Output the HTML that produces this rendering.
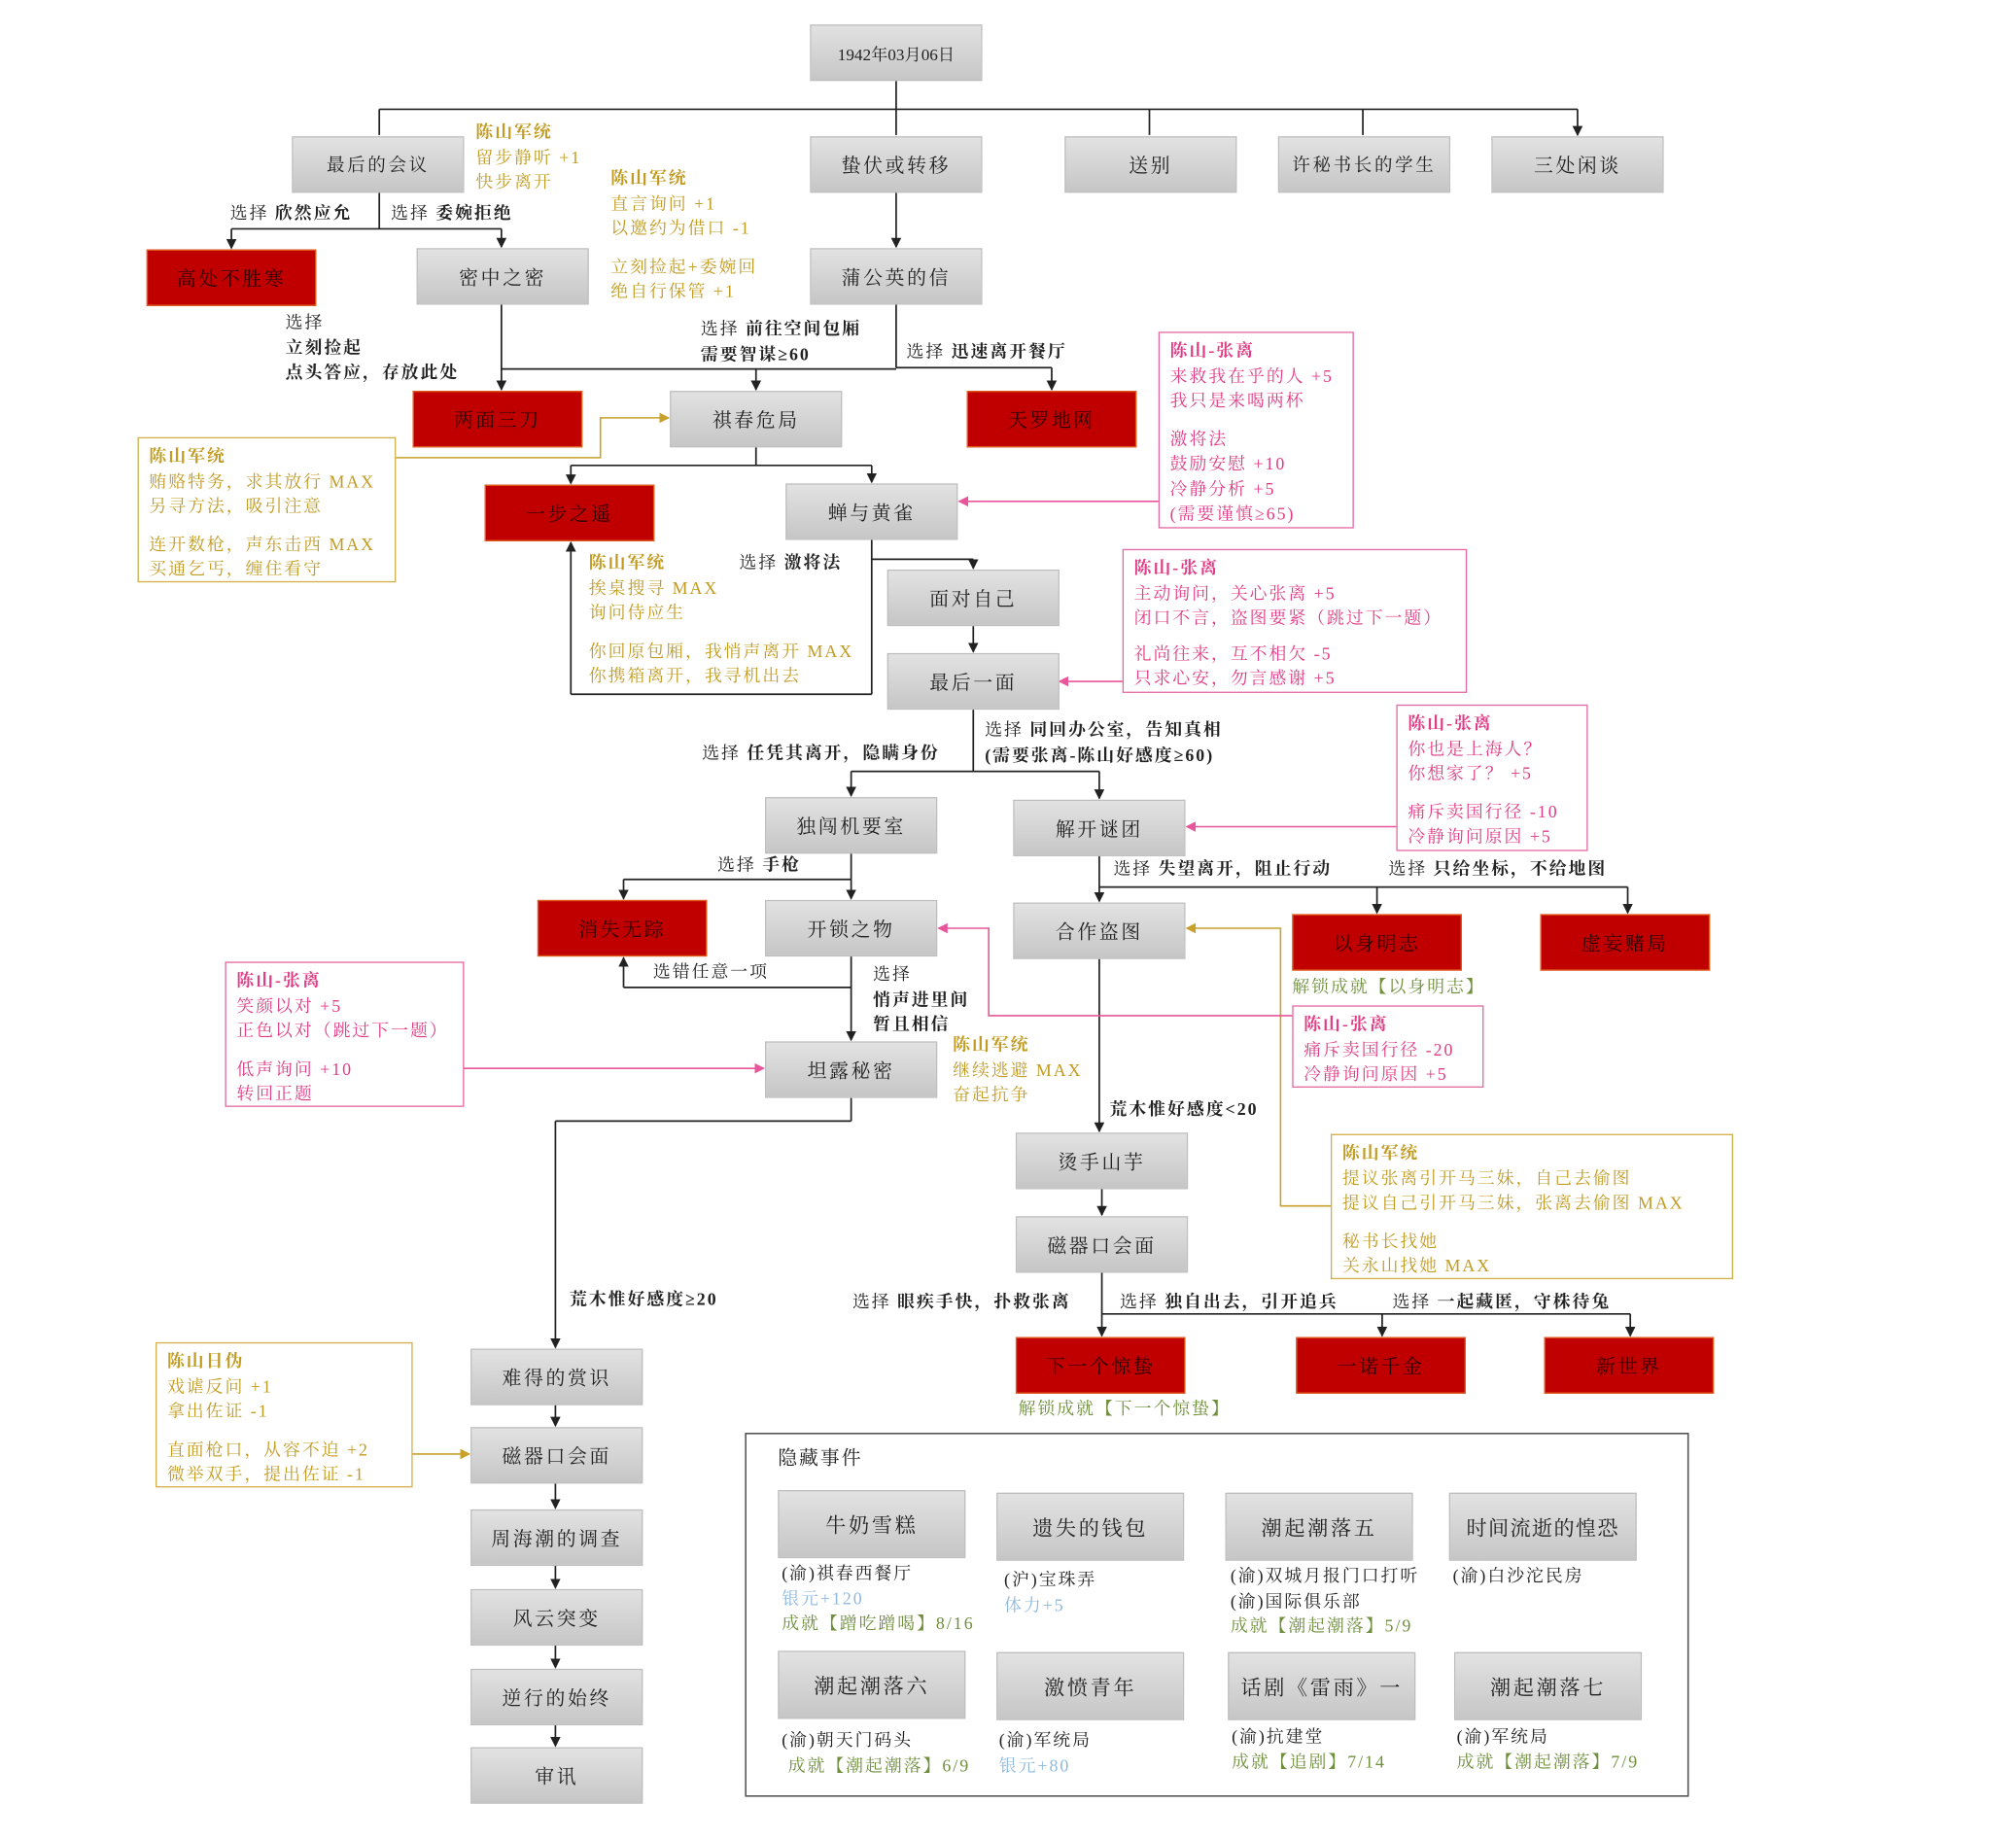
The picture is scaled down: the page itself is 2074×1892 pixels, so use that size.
<!DOCTYPE html>
<html><head><meta charset="utf-8">
<style>
html,body{margin:0;padding:0;background:#fff;}
body{width:2074px;height:1892px;overflow:hidden;position:relative;}
#w{position:absolute;left:0;top:0;width:1568px;height:1430px;transform:scale(1.32270);transform-origin:0 0;font-family:"Liberation Serif","Noto Serif CJK SC",serif;}
.b,.r{position:absolute;display:flex;align-items:center;justify-content:center;font-size:15px;letter-spacing:2px;color:#222;box-sizing:border-box;}
.b{background:linear-gradient(#e2e2e2,#c6c6c6);border:1px solid #bdbdbd;}
.r{background:#c00000;border:1px solid #e05a1a;color:#2a0000;}
.t{position:absolute;font-size:13.5px;line-height:19.5px;letter-spacing:1.5px;white-space:nowrap;color:#222;}
.t b{font-weight:bold;}
.g{color:#c29b22;} .p{color:#e03d86;} .gr{color:#6f8f3c;} .bl{color:#8fb8dc;}
.n{position:absolute;box-sizing:border-box;padding:4px 8px;font-size:13.5px;line-height:19.5px;letter-spacing:1.5px;white-space:nowrap;}
.ny{border:1px solid #d4b04a;color:#c29b22;}
.np{border:1px solid #e36aa3;color:#e03d86;}
.sp{height:10px;}
svg{position:absolute;left:0;top:0;}
</style></head><body><div id="w">
<svg width="1568" height="1430" viewBox="0 0 1568 1430">
<defs>
<marker id="a" markerWidth="8" markerHeight="8" refX="7" refY="4" orient="auto" markerUnits="userSpaceOnUse"><path d="M0,0 L8,4 L0,8z" fill="#222"/></marker>
<marker id="ay" markerWidth="8" markerHeight="8" refX="7" refY="4" orient="auto" markerUnits="userSpaceOnUse"><path d="M0,0 L8,4 L0,8z" fill="#c8a02a"/></marker>
<marker id="ap" markerWidth="8" markerHeight="8" refX="7" refY="4" orient="auto" markerUnits="userSpaceOnUse"><path d="M0,0 L8,4 L0,8z" fill="#e8559a"/></marker>
</defs>
<g stroke="#222" stroke-width="1.3" fill="none">
<path d="M697 63V85M295 85H1227"/>
<path d="M295 85V105M697 85V105M894 85V105M1060 85V105M1227 85V105" marker-end="url(#a)"/>
<path d="M295 150V178M180 178H390"/>
<path d="M180 178V193" marker-end="url(#a)"/><path d="M390 178V192" marker-end="url(#a)"/>
<path d="M697 150V192" marker-end="url(#a)"/>
<path d="M390 237V303" marker-end="url(#a)"/>
<path d="M697 237V286M390 287H697M697 286H818"/>
<path d="M588 287V303" marker-end="url(#a)"/><path d="M818 286V303" marker-end="url(#a)"/>
<path d="M588 348V362M444 362H678"/>
<path d="M444 362V376" marker-end="url(#a)"/><path d="M678 362V375" marker-end="url(#a)"/>
<path d="M678 420V540M678 435H757M444 540H678"/>
<path d="M757 435V442" marker-end="url(#a)"/><path d="M757 487V507" marker-end="url(#a)"/>
<path d="M444 540V422" marker-end="url(#a)"/>
<path d="M757 552V600M662 600H855"/>
<path d="M662 600V619" marker-end="url(#a)"/><path d="M855 600V621" marker-end="url(#a)"/>
<path d="M662 664V684M485 684H662"/>
<path d="M485 684V699" marker-end="url(#a)"/><path d="M662 684V699" marker-end="url(#a)"/>
<path d="M662 744V809" marker-end="url(#a)"/>
<path d="M662 768H485"/><path d="M485 768V745" marker-end="url(#a)"/>
<path d="M855 666V690M855 690H1266"/>
<path d="M855 690V701" marker-end="url(#a)"/><path d="M1071 690V710" marker-end="url(#a)"/><path d="M1266 690V710" marker-end="url(#a)"/>
<path d="M855 746V880" marker-end="url(#a)"/>
<path d="M662 854V872M432 872H662"/><path d="M432 872V1048" marker-end="url(#a)"/>
<path d="M857 925V945" marker-end="url(#a)"/>
<path d="M857 990V1039" marker-end="url(#a)"/>
<path d="M857 1022H1268"/>
<path d="M1075 1022V1039" marker-end="url(#a)"/><path d="M1268 1022V1039" marker-end="url(#a)"/>
<path d="M432 1093V1109" marker-end="url(#a)"/><path d="M432 1154V1173" marker-end="url(#a)"/><path d="M432 1218V1235" marker-end="url(#a)"/><path d="M432 1280V1297" marker-end="url(#a)"/><path d="M432 1342V1358" marker-end="url(#a)"/>
</g>
<g stroke="#c8a02a" stroke-width="1.2" fill="none">
<path d="M308 356H467V325H520" marker-end="url(#ay)"/>
<path d="M1035 938H996V722H923" marker-end="url(#ay)"/>
<path d="M321 1131H365" marker-end="url(#ay)"/>
</g>
<g stroke="#e8559a" stroke-width="1.2" fill="none">
<path d="M901 390H746" marker-end="url(#ap)"/>
<path d="M873 530H824" marker-end="url(#ap)"/>
<path d="M1086 643H923" marker-end="url(#ap)"/>
<path d="M1005 790H769V722H730" marker-end="url(#ap)"/>
<path d="M361 831H594" marker-end="url(#ap)"/>
</g>
<rect x="580" y="1115" width="733" height="282" fill="none" stroke="#555" stroke-width="1.2"/>
</svg>

<div class="b" style="left:630px;top:19px;width:134px;height:44px;font-size:13px;letter-spacing:0">1942年03月06日</div>
<div class="b" style="left:227px;top:106px;width:134px;height:44px;font-size:14px">最后的会议</div>
<div class="b" style="left:630px;top:106px;width:134px;height:44px">蛰伏或转移</div>
<div class="b" style="left:828px;top:106px;width:134px;height:44px">送别</div>
<div class="b" style="left:994px;top:106px;width:134px;height:44px;font-size:14px">许秘书长的学生</div>
<div class="b" style="left:1160px;top:106px;width:134px;height:44px">三处闲谈</div>
<div class="r" style="left:114px;top:194px;width:132px;height:44px">高处不胜寒</div>
<div class="b" style="left:324px;top:193px;width:134px;height:44px">密中之密</div>
<div class="b" style="left:630px;top:193px;width:134px;height:44px">蒲公英的信</div>
<div class="r" style="left:321px;top:304px;width:132px;height:44px">两面三刀</div>
<div class="b" style="left:521px;top:304px;width:134px;height:44px">祺春危局</div>
<div class="r" style="left:752px;top:304px;width:132px;height:44px">天罗地网</div>
<div class="r" style="left:377px;top:377px;width:132px;height:44px">一步之遥</div>
<div class="b" style="left:611px;top:376px;width:134px;height:44px">蝉与黄雀</div>
<div class="b" style="left:690px;top:443px;width:134px;height:44px">面对自己</div>
<div class="b" style="left:690px;top:508px;width:134px;height:44px">最后一面</div>
<div class="b" style="left:595px;top:620px;width:134px;height:44px">独闯机要室</div>
<div class="b" style="left:788px;top:622px;width:134px;height:44px">解开谜团</div>
<div class="r" style="left:418px;top:700px;width:132px;height:44px">消失无踪</div>
<div class="b" style="left:595px;top:700px;width:134px;height:44px">开锁之物</div>
<div class="b" style="left:788px;top:702px;width:134px;height:44px">合作盗图</div>
<div class="r" style="left:1005px;top:711px;width:132px;height:44px">以身明志</div>
<div class="r" style="left:1198px;top:711px;width:132px;height:44px">虚妄赌局</div>
<div class="b" style="left:595px;top:810px;width:134px;height:44px">坦露秘密</div>
<div class="b" style="left:790px;top:881px;width:134px;height:44px">烫手山芋</div>
<div class="b" style="left:790px;top:946px;width:134px;height:44px">磁器口会面</div>
<div class="r" style="left:790px;top:1040px;width:132px;height:44px">下一个惊蛰</div>
<div class="r" style="left:1008px;top:1040px;width:132px;height:44px">一诺千金</div>
<div class="r" style="left:1201px;top:1040px;width:132px;height:44px">新世界</div>
<div class="b" style="left:366px;top:1049px;width:134px;height:44px">难得的赏识</div>
<div class="b" style="left:366px;top:1110px;width:134px;height:44px">磁器口会面</div>
<div class="b" style="left:366px;top:1174px;width:134px;height:44px">周海潮的调查</div>
<div class="b" style="left:366px;top:1236px;width:134px;height:44px">风云突变</div>
<div class="b" style="left:366px;top:1298px;width:134px;height:44px">逆行的始终</div>
<div class="b" style="left:366px;top:1359px;width:134px;height:44px">审讯</div>

<!-- labels -->
<div class="t" style="left:179px;top:156px">选择 <b>欣然应允</b></div>
<div class="t" style="left:304px;top:156px">选择 <b>委婉拒绝</b></div>
<div class="t" style="left:222px;top:241px">选择<br><b>立刻捡起</b><br><b>点头答应，存放此处</b></div>
<div class="t" style="left:545px;top:246px">选择 <b>前往空间包厢</b><br><b>需要智谋≥60</b></div>
<div class="t" style="left:705px;top:264px">选择 <b>迅速离开餐厅</b></div>
<div class="t" style="left:575px;top:428px">选择 <b>激将法</b></div>
<div class="t" style="left:766px;top:558px">选择 <b>同回办公室，告知真相</b><br><b>(需要张离-陈山好感度≥60)</b></div>
<div class="t" style="left:546px;top:576px">选择 <b>任凭其离开，隐瞒身份</b></div>
<div class="t" style="left:558px;top:663px">选择 <b>手枪</b></div>
<div class="t" style="left:508px;top:746px">选错任意一项</div>
<div class="t" style="left:679px;top:748px">选择<br><b>悄声进里间</b><br><b>暂且相信</b></div>
<div class="t" style="left:866px;top:666px">选择 <b>失望离开，阻止行动</b></div>
<div class="t" style="left:1080px;top:666px">选择 <b>只给坐标，不给地图</b></div>
<div class="t" style="left:863px;top:853px"><b>荒木惟好感度&lt;20</b></div>
<div class="t" style="left:443px;top:1001px"><b>荒木惟好感度≥20</b></div>
<div class="t" style="left:663px;top:1003px">选择 <b>眼疾手快，扑救张离</b></div>
<div class="t" style="left:871px;top:1003px">选择 <b>独自出去，引开追兵</b></div>
<div class="t" style="left:1083px;top:1003px">选择 <b>一起藏匿，守株待兔</b></div>
<div class="t gr" style="left:1005px;top:758px">解锁成就【以身明志】</div>
<div class="t gr" style="left:792px;top:1086px">解锁成就【下一个惊蛰】</div>

<!-- gold free notes -->
<div class="t g" style="left:370px;top:93px"><b>陈山军统</b><br>留步静听 +1<br>快步离开</div>
<div class="t g" style="left:475px;top:129px"><b>陈山军统</b><br>直言询问 +1<br>以邀约为借口 -1<div class="sp"></div>立刻捡起+委婉回<br>绝自行保管 +1</div>
<div class="t g" style="left:458px;top:428px"><b>陈山军统</b><br>挨桌搜寻 MAX<br>询问侍应生<div class="sp"></div>你回原包厢，我悄声离开 MAX<br>你携箱离开，我寻机出去</div>
<div class="t g" style="left:741px;top:803px"><b>陈山军统</b><br>继续逃避 MAX<br>奋起抗争</div>

<!-- boxed notes -->
<div class="n ny" style="left:107px;top:340px;width:201px;height:113px"><b>陈山军统</b><br>贿赂特务，求其放行 MAX<br>另寻方法，吸引注意<div class="sp"></div>连开数枪，声东击西 MAX<br>买通乞丐，缠住看守</div>
<div class="n ny" style="left:1035px;top:882px;width:313px;height:113px"><b>陈山军统</b><br>提议张离引开马三妹，自己去偷图<br>提议自己引开马三妹，张离去偷图 MAX<div class="sp"></div>秘书长找她<br>关永山找她 MAX</div>
<div class="n ny" style="left:121px;top:1044px;width:200px;height:113px"><b>陈山日伪</b><br>戏谑反问 +1<br>拿出佐证 -1<div class="sp"></div>直面枪口，从容不迫 +2<br>微举双手，提出佐证 -1</div>
<div class="n np" style="left:901px;top:258px;width:152px;height:153px"><b>陈山-张离</b><br>来救我在乎的人 +5<br>我只是来喝两杯<div class="sp"></div>激将法<br>鼓励安慰 +10<br>冷静分析 +5<br>(需要谨慎≥65)</div>
<div class="n np" style="left:873px;top:427px;width:268px;height:112px"><b>陈山-张离</b><br>主动询问，关心张离 +5<br>闭口不言，盗图要紧（跳过下一题）<div class="sp" style="height:8px"></div>礼尚往来，互不相欠 -5<br>只求心安，勿言感谢 +5</div>
<div class="n np" style="left:1086px;top:548px;width:149px;height:114px"><b>陈山-张离</b><br>你也是上海人？<br>你想家了？ +5<div class="sp"></div>痛斥卖国行径 -10<br>冷静询问原因 +5</div>
<div class="n np" style="left:1005px;top:782px;width:149px;height:64px"><b>陈山-张离</b><br>痛斥卖国行径 -20<br>冷静询问原因 +5</div>
<div class="n np" style="left:175px;top:748px;width:186px;height:113px"><b>陈山-张离</b><br>笑颜以对 +5<br>正色以对（跳过下一题）<div class="sp"></div>低声询问 +10<br>转回正题</div>

<!-- hidden events -->
<div class="t" style="left:605px;top:1126px;font-size:15px">隐藏事件</div>
<div class="b" style="left:605px;top:1159px;width:146px;height:53px;font-size:16px">牛奶雪糕</div>
<div class="b" style="left:775px;top:1161px;width:146px;height:53px;font-size:16px">遗失的钱包</div>
<div class="b" style="left:953px;top:1161px;width:146px;height:53px;font-size:16px">潮起潮落五</div>
<div class="b" style="left:1127px;top:1161px;width:146px;height:53px;font-size:16px;letter-spacing:1px">时间流逝的惶恐</div>
<div class="b" style="left:605px;top:1284px;width:146px;height:53px;font-size:16px">潮起潮落六</div>
<div class="b" style="left:775px;top:1285px;width:146px;height:53px;font-size:16px">激愤青年</div>
<div class="b" style="left:955px;top:1285px;width:146px;height:53px;font-size:16px">话剧《雷雨》一</div>
<div class="b" style="left:1131px;top:1285px;width:146px;height:53px;font-size:16px">潮起潮落七</div>
<div class="t" style="left:608px;top:1214px">(渝)祺春西餐厅<br><span class="bl">银元+120</span><br><span class="gr">成就【蹭吃蹭喝】8/16</span></div>
<div class="t" style="left:781px;top:1219px">(沪)宝珠弄<br><span class="bl">体力+5</span></div>
<div class="t" style="left:957px;top:1216px">(渝)双城月报门口打听<br>(渝)国际俱乐部<br><span class="gr">成就【潮起潮落】5/9</span></div>
<div class="t" style="left:1130px;top:1216px">(渝)白沙沱民房</div>
<div class="t" style="left:608px;top:1344px">(渝)朝天门码头<br><span class="gr">&nbsp;成就【潮起潮落】6/9</span></div>
<div class="t" style="left:777px;top:1344px">(渝)军统局<br><span class="bl">银元+80</span></div>
<div class="t" style="left:958px;top:1341px">(渝)抗建堂<br><span class="gr">成就【追剧】7/14</span></div>
<div class="t" style="left:1133px;top:1341px">(渝)军统局<br><span class="gr">成就【潮起潮落】7/9</span></div>
</div></body></html>
